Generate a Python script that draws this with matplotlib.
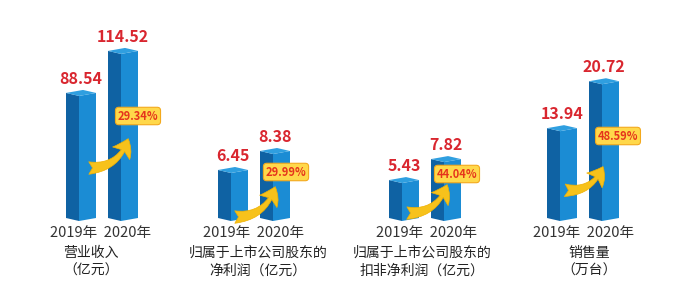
import matplotlib
matplotlib.use("Agg")
import matplotlib.pyplot as plt
from matplotlib.patches import Polygon, FancyArrowPatch

plt.rcParams["font.family"] = ["Noto Sans CJK SC", "DejaVu Sans"]
plt.rcParams["axes.unicode_minus"] = False

# data
years = ["2019年", "2020年"]
revenue = [88.54, 114.52]
net_profit = [6.45, 8.38]
net_profit_deducted = [5.43, 7.82]
sales = [13.94, 20.72]
growth = ["29.34%", "29.99%", "44.04%", "48.59%"]
titles = [["营业收入", "（亿元）"],
          ["归属于上市公司股东的", "净利润（亿元）"],
          ["归属于上市公司股东的", "扣非净利润（亿元）"],
          ["销售量", "（万台）"]]
series = [revenue, net_profit, net_profit_deducted, sales]

# layout (pixels, from top-left of 678x296 image)
W, H = 678, 296
corner0 = [79, 231, 402, 560]
ylims = [(11.2, 135.5), (1.57, 22.0), (1.11, 24.0), (0.96, 30.0)]
base_px, top_px = 221, 20
step = 42
year_cx = [101, 254, 427, 584]
title_cx = [91, 258, 422, 589]
arrows = [((86, 168), (129, 136)), ((232, 217), (276, 184)),
          ((404, 213), (448, 182)), ((562, 190), (604, 164))]
badges = [(138, 116), (286, 172), (457, 174), (618, 136)]

c_left = "#0f62a3"
c_front = "#1b8cd4"
c_top = "#2f9fe0"
c_red = "#d9262f"


def fx(px):
    return px / W


def fy(py):
    return 1 - py / H


fig = plt.figure(figsize=(6.78, 2.96), dpi=100)
fig.patch.set_facecolor("white")

wl, wr = 13 / step, 17 / step
for g, vals in enumerate(series):
    left = corner0[g] - 0.6 * step
    ax = fig.add_axes([fx(left), fy(base_px), 2.2 * step / W, (base_px - top_px) / H])
    ymin, ymax = ylims[g]
    ax.set_xlim(-0.6, 1.6)
    ax.set_ylim(ymin, ymax)
    s = 3 * (ymax - ymin) / (base_px - top_px)  # 3px skew in data units
    for i, v in enumerate(vals):
        x = i
        lf = [(x - wl, ymin + s), (x, ymin), (x, v), (x - wl, v + s)]
        rf = [(x, ymin), (x + wr, ymin + s), (x + wr, v + s), (x, v)]
        tp = [(x, v), (x + wr, v + s), (x + wr - wl, v + 2 * s), (x - wl, v + s)]
        ax.add_patch(Polygon(lf, closed=True, fc=c_left, ec="none", clip_on=False))
        ax.add_patch(Polygon(rf, closed=True, fc=c_front, ec="none", clip_on=False))
        ax.add_patch(Polygon(tp, closed=True, fc=c_top, ec="none", clip_on=False))
        ax.annotate(f"{v:.2f}", (x, v), xytext=(2, 17), textcoords="offset pixels",
                    ha="center", va="center", fontsize=11.5, fontweight="bold",
                    color=c_red)
    ax.axis("off")

    # year labels under the pair of bars
    fig.text(fx(year_cx[g]), fy(233), "  ".join(years), ha="center", va="center",
             fontsize=10.5, color="#333333")

    # category title
    fig.text(fx(title_cx[g]), fy(253), titles[g][0], ha="center", va="center",
             fontsize=10, color="#222222")
    fig.text(fx(title_cx[g]), fy(271), titles[g][1], ha="center", va="center",
             fontsize=10, color="#222222")

    # growth arrow + badge
    (tx, ty), (hx, hy) = arrows[g]
    arr = FancyArrowPatch((fx(tx), fy(ty)), (fx(hx), fy(hy)),
                          transform=fig.transFigure,
                          connectionstyle="arc3,rad=0.4",
                          arrowstyle="fancy,head_width=1.7,head_length=1.3,tail_width=1.0",
                          mutation_scale=9, fc="#f7c21b", ec="#f0b000", lw=0.5,
                          zorder=5)
    fig.add_artist(arr)
    bx, by = badges[g]
    fig.text(fx(bx), fy(by), growth[g], ha="center", va="center", fontsize=8,
             fontweight="bold", color="#e5341c", zorder=6,
             bbox=dict(boxstyle="round,pad=0.2,rounding_size=0.3", fc="#ffd84a",
                       ec="#f3a91d", lw=0.8))

fig.savefig("out.png", dpi=100)
